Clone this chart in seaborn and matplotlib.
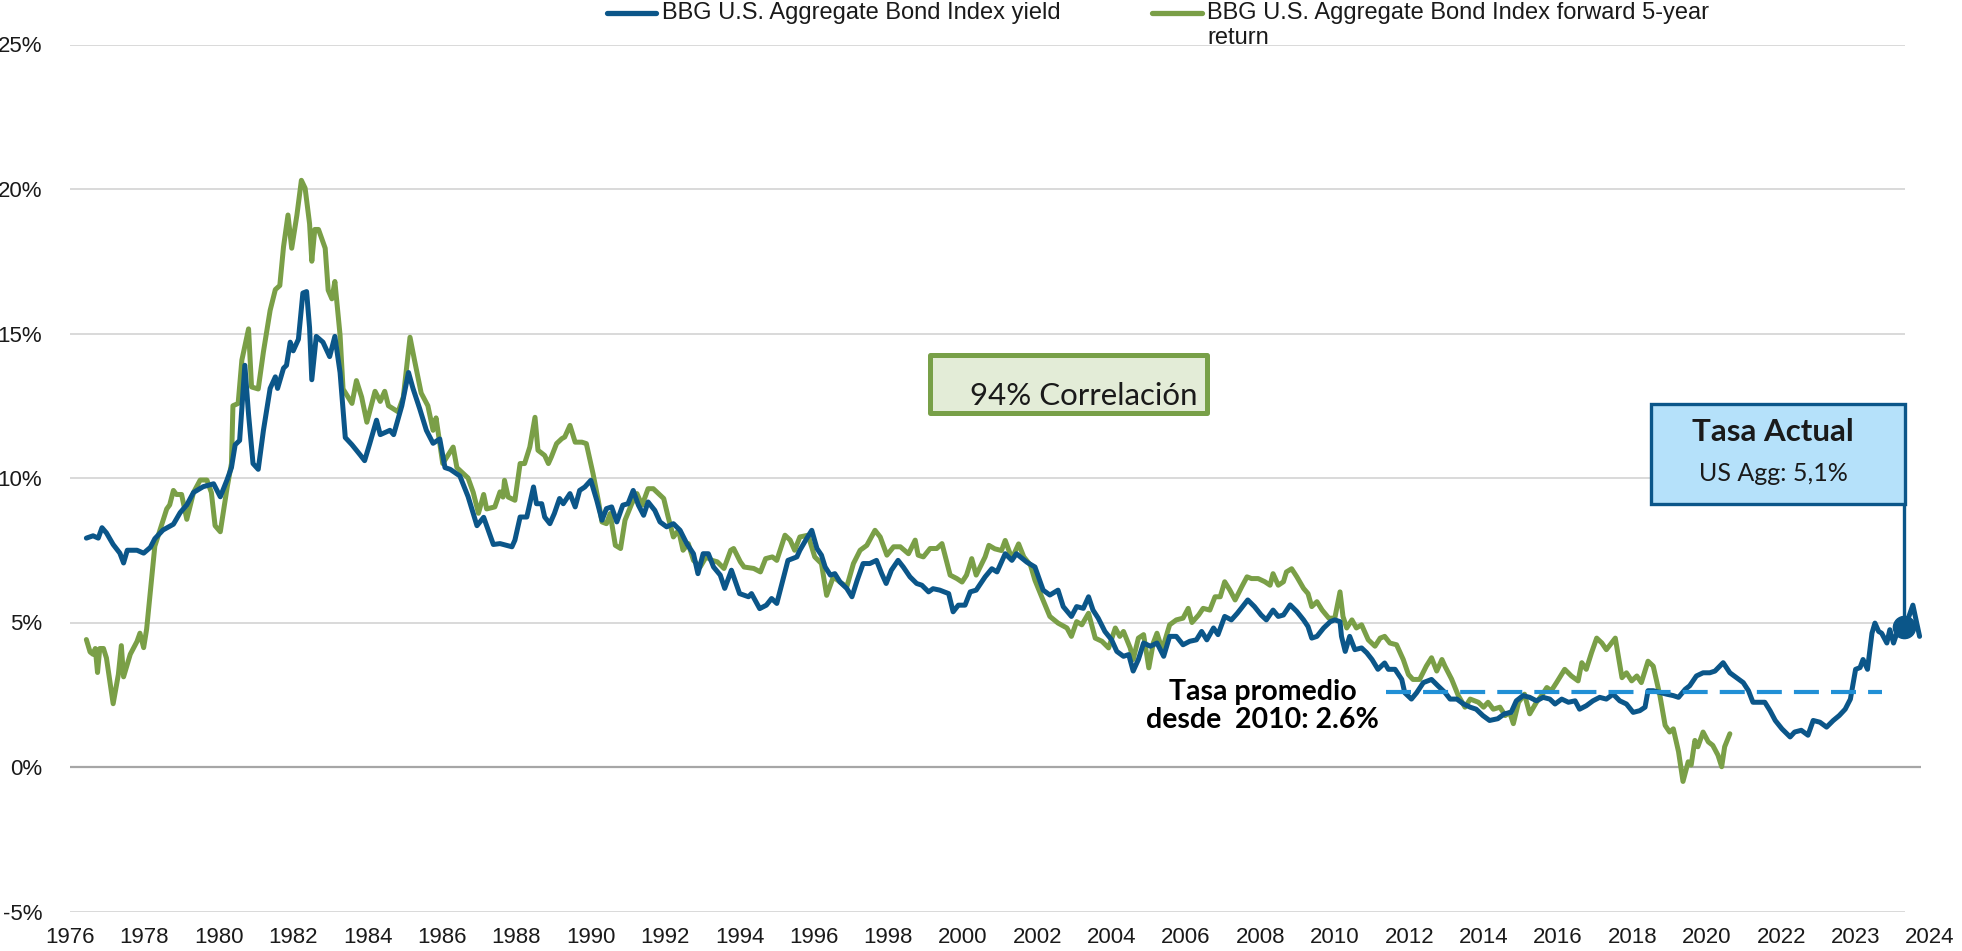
import matplotlib
matplotlib.use("Agg")
import numpy as np
import pandas as pd
import seaborn as sns
import matplotlib.pyplot as plt
from matplotlib.patches import Rectangle
from matplotlib.lines import Line2D

# ---------------- data ----------------
x_labels = ["1976", "1978", "1980", "1982", "1984", "1986", "1988", "1990", "1992",
            "1994", "1996", "1998", "2000", "2002", "2004", "2006", "2008", "2010",
            "2012", "2014", "2016", "2018", "2020", "2022", "2023", "2024"]
y_ticks = [-5, 0, 5, 10, 15, 20, 25]

# position along the category axis (1 unit = one label step)
yield_t = [0.22, 0.31, 0.38, 0.43, 0.49, 0.58, 0.67, 0.72, 0.77, 0.90, 0.99, 1.08, 1.14, 1.25,
           1.39, 1.48, 1.57, 1.66, 1.79, 1.93, 2.02, 2.11, 2.17, 2.22, 2.28, 2.35, 2.40, 2.46,
           2.53, 2.60, 2.69, 2.76, 2.79, 2.87, 2.91, 2.96, 3.00, 3.07, 3.13, 3.18, 3.22, 3.25,
           3.31, 3.40, 3.49, 3.56, 3.63, 3.70, 3.79, 3.90, 3.96, 4.03, 4.12, 4.17, 4.30, 4.35,
           4.46, 4.55, 4.61, 4.70, 4.79, 4.88, 4.97, 5.04, 5.11, 5.24, 5.35, 5.47, 5.56, 5.69,
           5.78, 5.87, 5.94, 5.98, 6.05, 6.14, 6.23, 6.27, 6.34, 6.38, 6.45, 6.51, 6.58, 6.63,
           6.72, 6.79, 6.85, 6.92, 7.00, 7.08, 7.15, 7.21, 7.28, 7.35, 7.43, 7.50, 7.57, 7.64,
           7.71, 7.77, 7.86, 7.93, 8.02, 8.11, 8.20, 8.29, 8.38, 8.44, 8.51, 8.58, 8.65, 8.74,
           8.80, 8.89, 9.00, 9.12, 9.16, 9.27, 9.36, 9.43, 9.50, 9.58, 9.65, 9.77, 9.81, 9.90,
           9.97, 10.04, 10.10, 10.15, 10.22, 10.28, 10.35, 10.44, 10.51, 10.58, 10.66, 10.75,
           10.84, 10.91, 10.97, 11.04, 11.13, 11.20, 11.29, 11.38, 11.45, 11.54, 11.60, 11.69,
           11.81, 11.87, 11.94, 12.03, 12.10, 12.18, 12.30, 12.39, 12.46, 12.57, 12.66, 12.72,
           12.86, 12.97, 13.08, 13.17, 13.28, 13.35, 13.46, 13.53, 13.62, 13.69, 13.75, 13.82,
           13.91, 14.00, 14.07, 14.16, 14.23, 14.29, 14.36, 14.43, 14.52, 14.61, 14.70, 14.78,
           14.87, 14.96, 15.05, 15.14, 15.21, 15.28, 15.37, 15.43, 15.52, 15.61, 15.69, 15.76,
           15.83, 15.92, 16.01, 16.08, 16.17, 16.24, 16.31, 16.40, 16.49, 16.58, 16.64, 16.69,
           16.76, 16.85, 16.94, 17.00, 17.07, 17.09, 17.14, 17.20, 17.27, 17.36, 17.43, 17.50,
           17.58, 17.67, 17.72, 17.81, 17.90, 17.94, 18.03, 18.10, 18.19, 18.30, 18.39, 18.48,
           18.55, 18.64, 18.73, 18.82, 18.90, 18.99, 19.08, 19.19, 19.28, 19.37, 19.44, 19.53,
           19.62, 19.71, 19.80, 19.89, 19.96, 20.05, 20.14, 20.23, 20.29, 20.38, 20.47, 20.56,
           20.65, 20.74, 20.83, 20.92, 21.01, 21.10, 21.17, 21.21, 21.28, 21.37, 21.46, 21.55,
           21.62, 21.71, 21.77, 21.86, 21.95, 22.04, 22.11, 22.22, 22.31, 22.40, 22.49, 22.56,
           22.62, 22.69, 22.78, 22.85, 22.92, 23.01, 23.12, 23.18, 23.27, 23.36, 23.43, 23.52,
           23.61, 23.70, 23.78, 23.86, 23.93, 24.00, 24.06, 24.10, 24.16, 24.22, 24.26, 24.31,
           24.35, 24.42, 24.46, 24.51, 24.57, 24.64, 24.70, 24.77, 24.86]
yield_v = [7.92, 8.0, 7.92, 8.28, 8.1, 7.7, 7.4, 7.06, 7.5, 7.5, 7.4, 7.6, 7.9, 8.2,
           8.4, 8.8, 9.07, 9.5, 9.7, 9.8, 9.35, 9.93, 10.36, 11.15, 11.3, 13.9, 12.2, 10.5,
           10.3, 11.65, 13.1, 13.5, 13.1, 13.8, 13.9, 14.7, 14.4, 14.8, 16.4, 16.45, 15.2, 13.4,
           14.9, 14.7, 14.2, 14.9, 13.65, 11.4, 11.15, 10.8, 10.6, 11.2, 12.0, 11.5, 11.65, 11.5,
           12.5, 13.65, 13.1, 12.4, 11.65, 11.2, 11.35, 10.36, 10.3, 10.07, 9.36, 8.35, 8.64, 7.7,
           7.73, 7.67, 7.62, 7.85, 8.65, 8.65, 9.69, 9.11, 9.11, 8.65, 8.42, 8.77, 9.29, 9.11,
           9.46, 9.0, 9.57, 9.69, 9.92, 9.23, 8.54, 8.94, 9.0, 8.48, 9.06, 9.11, 9.57, 9.06,
           8.71, 9.17, 8.88, 8.48, 8.31, 8.42, 8.19, 7.73, 7.38, 6.69, 7.38, 7.38, 6.92, 6.64,
           6.18, 6.81, 6.0, 5.89, 6.0, 5.48, 5.6, 5.83, 5.66, 6.46, 7.15, 7.27, 7.5, 7.9,
           8.19, 7.56, 7.33, 6.92, 6.64, 6.69, 6.4, 6.18, 5.89, 6.46, 7.04, 7.04,
           7.15, 6.69, 6.35, 6.81, 7.15, 6.92, 6.58, 6.35, 6.29, 6.06, 6.17, 6.12,
           6.0, 5.37, 5.6, 5.6, 6.06, 6.12, 6.58, 6.86, 6.75, 7.38, 7.15, 7.38,
           7.09, 6.92, 6.12, 5.95, 6.12, 5.55, 5.21, 5.55, 5.49, 5.89, 5.43, 5.15,
           4.69, 4.4, 4.0, 3.83, 3.89, 3.32, 3.72, 4.29, 4.18, 4.29, 3.83, 4.52,
           4.52, 4.23, 4.35, 4.4, 4.69, 4.4, 4.81, 4.58, 5.21, 5.09, 5.32, 5.55,
           5.78, 5.55, 5.26, 5.09, 5.43, 5.21, 5.26, 5.61, 5.38, 5.09, 4.86, 4.46,
           4.52, 4.81, 5.03, 5.09, 5.03, 4.52, 4.0, 4.52, 4.06, 4.12, 3.95, 3.72,
           3.38, 3.6, 3.38, 3.38, 3.03, 2.57, 2.35, 2.57, 2.92, 3.03, 2.8, 2.58,
           2.35, 2.35, 2.18, 2.07, 2.0, 1.78, 1.61, 1.67, 1.84, 1.89, 2.29, 2.47,
           2.41, 2.29, 2.41, 2.35, 2.18, 2.35, 2.24, 2.29, 2.0, 2.12, 2.29, 2.41,
           2.35, 2.52, 2.29, 2.18, 1.89, 1.95, 2.07, 2.64, 2.64, 2.58, 2.52, 2.47,
           2.41, 2.69, 2.81, 3.15, 3.26, 3.26, 3.32, 3.61, 3.26, 3.09, 2.92, 2.64,
           2.24, 2.24, 2.24, 1.95, 1.61, 1.32, 1.04, 1.21, 1.27, 1.1, 1.61, 1.55,
           1.38, 1.61, 1.78, 2.0, 2.35, 3.38, 3.44, 3.72, 3.38, 4.63, 4.98, 4.69,
           4.63, 4.29, 4.75, 4.29, 4.75, 4.69, 5.09, 5.6, 4.52]

fwd_t = [0.22, 0.27, 0.31, 0.34, 0.37, 0.40, 0.45, 0.49, 0.58, 0.65, 0.69, 0.72, 0.81, 0.90,
         0.94, 0.99, 1.03, 1.08, 1.14, 1.21, 1.30, 1.34, 1.39, 1.43, 1.50, 1.57, 1.66, 1.75,
         1.84, 1.90, 1.95, 2.02, 2.11, 2.17, 2.19, 2.26, 2.31, 2.40, 2.44, 2.53, 2.60, 2.69,
         2.76, 2.82, 2.87, 2.93, 2.98, 3.05, 3.11, 3.16, 3.22, 3.25, 3.29, 3.34, 3.43, 3.47,
         3.52, 3.56, 3.63, 3.67, 3.79, 3.85, 3.92, 3.99, 4.10, 4.17, 4.23, 4.28, 4.41, 4.48,
         4.57, 4.63, 4.72, 4.81, 4.88, 4.92, 5.01, 5.15, 5.20, 5.35, 5.42, 5.49, 5.56, 5.60,
         5.71, 5.78, 5.82, 5.84, 5.89, 5.98, 6.05, 6.11, 6.18, 6.25, 6.29, 6.38, 6.43, 6.47,
         6.54, 6.61, 6.65, 6.72, 6.79, 6.88, 6.94, 7.03, 7.10, 7.15, 7.21, 7.26, 7.33, 7.40,
         7.46, 7.55, 7.62, 7.69, 7.77, 7.84, 7.98, 8.04, 8.11, 8.18, 8.24, 8.31, 8.38, 8.47,
         8.55, 8.63, 8.70, 8.79, 8.88, 8.92, 9.01, 9.06, 9.19, 9.28, 9.35, 9.44, 9.50, 9.61,
         9.68, 9.74, 9.81, 9.92, 10.01, 10.10, 10.17, 10.26, 10.35, 10.44, 10.53, 10.62,
         10.71, 10.82, 10.89, 10.98, 11.07, 11.16, 11.27, 11.36, 11.40, 11.47, 11.56, 11.65,
         11.72, 11.83, 11.92, 11.99, 12.05, 12.12, 12.18, 12.30, 12.35, 12.43, 12.52, 12.57,
         12.66, 12.75, 12.82, 12.91, 12.97, 13.06, 13.17, 13.28, 13.40, 13.46, 13.53, 13.60,
         13.69, 13.78, 13.87, 13.96, 14.05, 14.11, 14.16, 14.25, 14.29, 14.36, 14.43, 14.50,
         14.56, 14.61, 14.68, 14.78, 14.87, 14.96, 15.03, 15.08, 15.17, 15.23, 15.32, 15.39,
         15.46, 15.52, 15.59, 15.66, 15.75, 15.82, 15.88, 15.97, 16.06, 16.13, 16.17, 16.24,
         16.31, 16.35, 16.42, 16.49, 16.58, 16.64, 16.69, 16.76, 16.83, 16.92, 17.00, 17.07,
         17.11, 17.16, 17.23, 17.29, 17.36, 17.45, 17.54, 17.61, 17.67, 17.74, 17.83, 17.92,
         17.99, 18.05, 18.14, 18.23, 18.30, 18.37, 18.44, 18.48, 18.57, 18.66, 18.75, 18.82,
         18.93, 19.00, 19.06, 19.13, 19.22, 19.29, 19.35, 19.40, 19.47, 19.55, 19.62, 19.71,
         19.78, 19.85, 19.91, 19.98, 20.09, 20.18, 20.27, 20.32, 20.38, 20.45, 20.52, 20.59,
         20.65, 20.77, 20.86, 20.92, 20.99, 21.06, 21.12, 21.21, 21.28, 21.37, 21.44, 21.50,
         21.55, 21.62, 21.68, 21.75, 21.79, 21.84, 21.88, 21.95, 22.02, 22.08, 22.15, 22.20,
         22.24, 22.31]
fwd_v = [4.41, 3.98, 3.9, 4.1, 3.27, 4.1, 4.1, 3.77, 2.19, 3.2, 4.2, 3.12, 3.9, 4.34,
         4.63, 4.13, 4.77, 6.06, 7.64, 8.2, 8.93, 9.07, 9.57, 9.43, 9.43, 8.57, 9.5, 9.93,
         9.93, 9.5, 8.35, 8.14, 9.64, 10.5, 12.5, 12.58, 14.08, 15.16, 13.15, 13.08, 14.37, 15.8,
         16.52, 16.66, 18.0, 19.1, 17.95, 19.1, 20.3, 20.03, 18.8, 17.5, 18.6, 18.6, 17.95, 16.5,
         16.2, 16.8, 14.94, 13.08, 12.58, 13.37, 12.8, 11.93, 13.0, 12.65, 13.0, 12.5, 12.29, 12.8,
         14.87, 14.08, 12.94, 12.5, 11.65, 12.08, 10.5, 11.07, 10.36, 10.0, 9.5, 8.78, 9.43, 8.93,
         9.0, 9.52, 9.34, 9.92, 9.34, 9.23, 10.5, 10.5, 11.07, 12.1, 10.96, 10.78, 10.5, 10.73,
         11.19, 11.36, 11.42, 11.82, 11.24, 11.24, 11.19, 10.15, 9.23, 8.48, 8.42, 8.77, 7.67, 7.56,
         8.54, 9.11, 9.46, 9.06, 9.63, 9.63, 9.29, 8.65, 7.96, 8.19, 7.5, 7.73, 7.15, 6.92,
         7.27, 7.15, 7.1, 6.87, 7.5, 7.56, 7.1, 6.92, 6.87, 6.75, 7.21, 7.27, 7.15, 8.02,
         7.85, 7.5, 7.96, 8.02, 7.27, 7.04, 5.94, 6.58, 6.4, 6.23, 7.04, 7.5,
         7.67, 8.19, 7.96, 7.33, 7.62, 7.62, 7.38, 7.85, 7.33, 7.27, 7.56, 7.56,
         7.73, 6.64, 6.52, 6.4, 6.64, 7.21, 6.64, 7.27, 7.67, 7.55, 7.49, 7.84,
         7.21, 7.72, 7.27, 6.98, 6.46, 5.89, 5.21, 4.98, 4.81, 4.52, 5.03, 4.92,
         5.32, 4.46, 4.35, 4.12, 4.81, 4.52, 4.69, 4.12, 3.72, 4.46, 4.58, 3.43,
         4.29, 4.63, 4.06, 4.92, 5.09, 5.15, 5.49, 5.0, 5.26, 5.49, 5.43, 5.89,
         5.89, 6.41, 6.12, 5.78, 6.24, 6.58, 6.52, 6.52, 6.41, 6.29, 6.69, 6.29,
         6.41, 6.75, 6.86, 6.58, 6.18, 6.0, 5.55, 5.72, 5.43, 5.15, 5.15, 6.06,
         5.21, 4.81, 5.09, 4.81, 4.92, 4.4, 4.18, 4.46, 4.52, 4.29, 4.23, 3.72,
         3.2, 3.03, 3.03, 3.49, 3.78, 3.32, 3.72, 3.49, 3.04, 2.47, 2.07, 2.35,
         2.24, 2.07, 2.24, 2.0, 2.07, 1.78, 1.89, 1.5, 2.24, 2.52, 1.84, 2.24,
         2.47, 2.75, 2.64, 2.92, 3.38, 3.15, 2.98, 3.61, 3.38, 3.95, 4.46, 4.29,
         4.06, 4.46, 3.09, 3.26, 2.98, 3.15, 2.92, 3.66, 3.49, 2.47, 1.44, 1.21,
         1.32, 0.53, -0.5, 0.18, 0.07, 0.92, 0.7, 1.21, 0.87, 0.75, 0.41, 0.01,
         0.7, 1.15]

avg_since_2010 = 2.6
avg_span = (17.69, 24.35)
current_t, current_v = 24.65, 4.84

series_names = ["BBG U.S. Aggregate Bond Index yield",
                "BBG U.S. Aggregate Bond Index forward 5-year", "return"]

# ---------------- style ----------------
BLUE = "#0B5689"
GREEN = "#7A9F47"
DASH = "#2190D6"
TXT = "#1a1a1a"

sns.set_theme(style="white")
plt.rcParams["font.family"] = ["Liberation Sans", "DejaVu Sans"]

W, H = 1962, 951
fig = plt.figure(figsize=(W / 100, H / 100), dpi=100)
ax = fig.add_axes([70 / W, 1 - 911.5 / H, 1860 / W, 867 / H])

df_y = pd.DataFrame({"t": yield_t, "v": yield_v})
df_f = pd.DataFrame({"t": fwd_t, "v": fwd_v})

# grid lines
for yv in y_ticks:
    if yv == 0:
        ax.hlines(yv, 0, 24.88, color="#A6A6A6", lw=1.6, zorder=1)
    else:
        ax.hlines(yv, 0, 24.66, color="#D9D9D9", lw=1.4, zorder=1)

sns.lineplot(data=df_f, x="t", y="v", ax=ax, color=GREEN, lw=3.6,
             estimator=None, sort=False, zorder=3)
sns.lineplot(data=df_y, x="t", y="v", ax=ax, color=BLUE, lw=3.6,
             estimator=None, sort=False, zorder=4)

# average line
ax.plot(list(avg_span), [avg_since_2010, avg_since_2010], color=DASH, lw=3.0,
        dashes=(6, 2.9), zorder=5)

ax.set_xlim(0, 25)
ax.set_ylim(-5, 25)
ax.set_xticks(range(len(x_labels)))
ax.set_xticklabels(x_labels)
ax.set_yticks(y_ticks)
ax.set_yticklabels([f"{v}%" for v in y_ticks])
ax.tick_params(axis="x", length=0, pad=11, labelsize=16, labelcolor=TXT)
ax.tick_params(axis="y", length=0, pad=20, labelsize=16, labelcolor=TXT)
ax.set_xlabel("")
ax.set_ylabel("")
for s in ax.spines.values():
    s.set_visible(False)
ax.grid(False)

# correlation box
ax.add_patch(Rectangle((11.56, 12.25), 3.72, 2.01, facecolor="#E3ECD7",
                       edgecolor="#78A048", lw=3.6, joinstyle="round", zorder=6))
ax.text(15.16, 12.53, "94% Correlación", ha="right", va="baseline",
        fontsize=22.5, family="Lato", color=TXT, zorder=7)

# current rate box
ax.add_patch(Rectangle((21.25, 9.10), 3.41, 3.46, facecolor="#B5E1FA",
                       edgecolor=BLUE, lw=2.4, zorder=6))
ax.text(22.89, 11.59, "Tasa Actual", ha="center", va="center", fontsize=22.5,
        family="Lato", fontweight="bold", color=TXT, zorder=7)
ax.text(22.89, 10.14, "US Agg: 5,1%", ha="center", va="center", fontsize=18,
        family="Lato", color=TXT, zorder=7)
ax.plot([current_t, current_t], [9.10, current_v], color=BLUE, lw=2.4, zorder=6)
ax.plot([current_t], [current_v], marker="o", ms=16, color=BLUE, zorder=7)

# average annotation
ax.text(16.03, 2.11, "Tasa promedio\ndesde  2010: 2.6%", ha="center", va="center",
        fontsize=20.5, family="Lato", fontweight="bold", color="black",
        linespacing=1.05, zorder=7)

# legend (manual, top)
LEG_Y = 1 - 12.5 / H
fig.add_artist(Line2D([607 / W, 656 / W], [LEG_Y] * 2, color=BLUE, lw=3.8,
                      transform=fig.transFigure))
fig.text(662 / W, LEG_Y, series_names[0], ha="left", va="center",
         fontsize=17, color=TXT)
fig.add_artist(Line2D([1152 / W, 1202 / W], [LEG_Y] * 2, color=GREEN, lw=3.8,
                      transform=fig.transFigure))
fig.text(1207 / W, LEG_Y, series_names[1], ha="left", va="center",
         fontsize=17, color=TXT)
fig.text(1207 / W, 1 - 38 / H, series_names[2], ha="left", va="center",
         fontsize=17, color=TXT)

fig.savefig("out.png", dpi=100)
